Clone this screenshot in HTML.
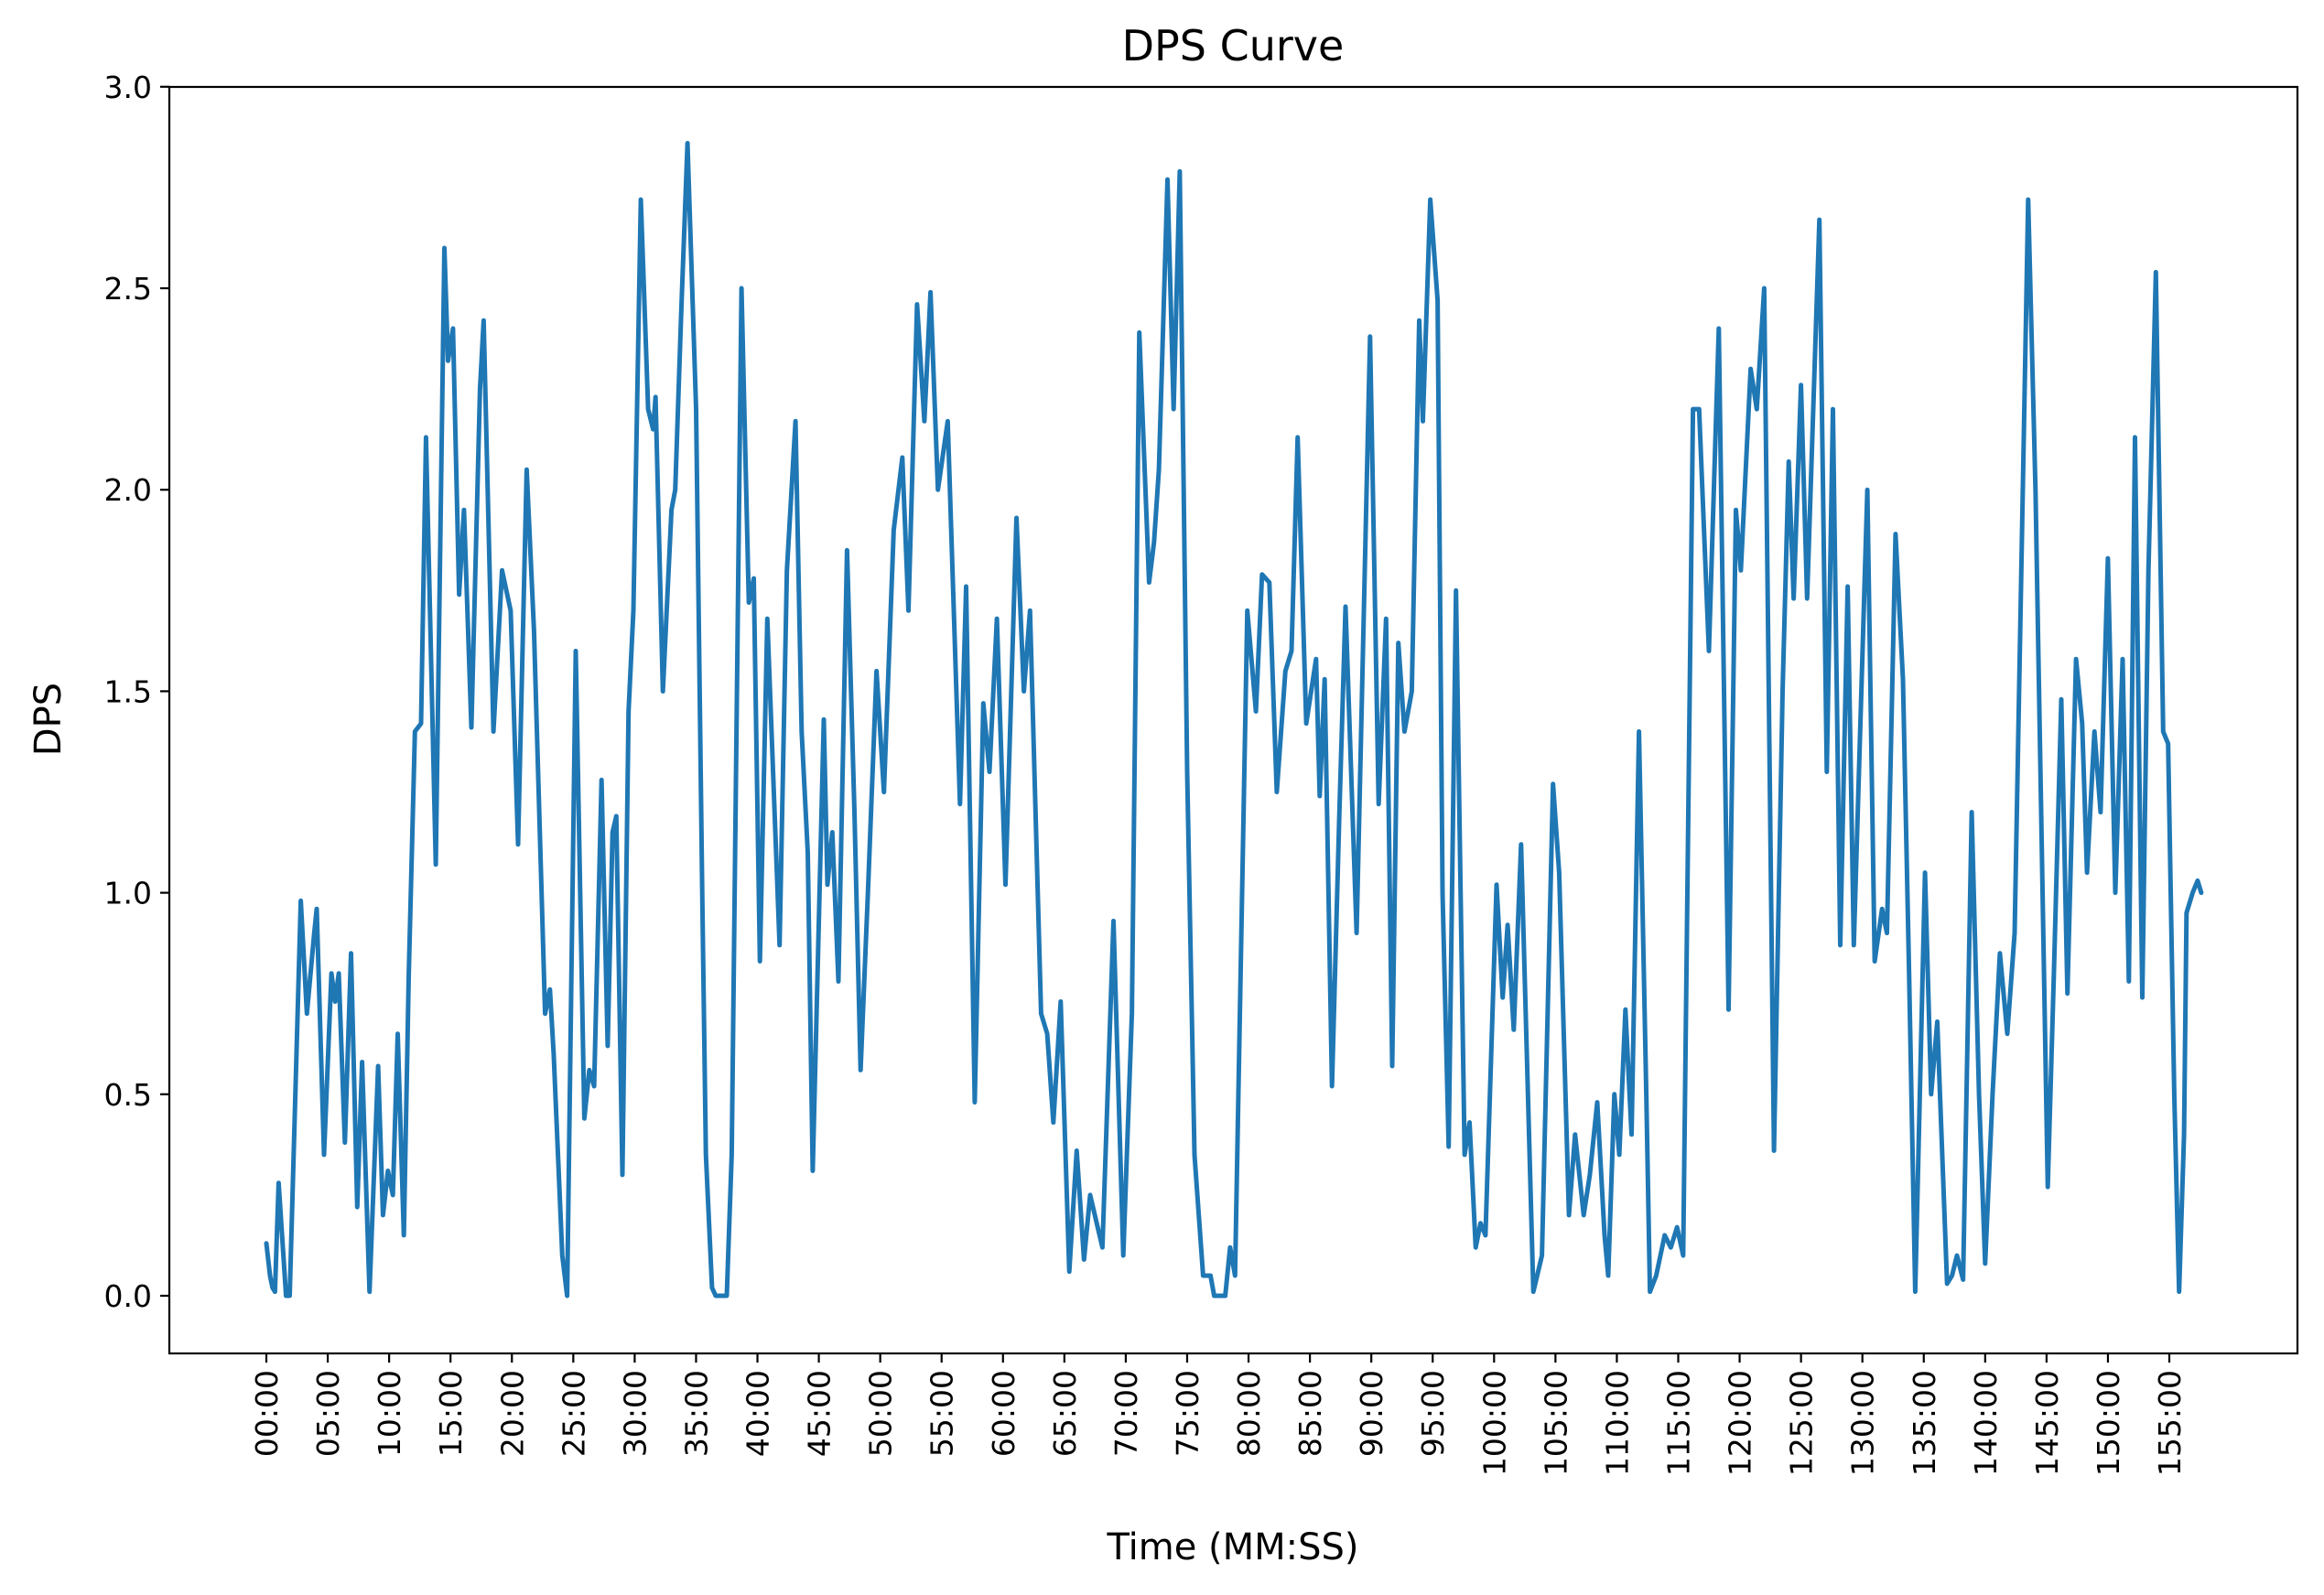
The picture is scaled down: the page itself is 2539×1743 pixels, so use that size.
<!DOCTYPE html>
<html><head><meta charset="utf-8"><style>
html,body{margin:0;padding:0;background:#fff}
svg{display:block;font-family:"DejaVu Sans","Liberation Sans",sans-serif}
</style></head><body>
<svg id="chart" width="2539" height="1743" viewBox="0 0 2539 1743" xmlns="http://www.w3.org/2000/svg">
<rect width="2539" height="1743" fill="#fff"/>
<text x="1347" y="66" font-size="46" text-anchor="middle">DPS Curve</text>
<text transform="translate(66,786) rotate(-90)" font-size="40" text-anchor="middle">DPS</text>
<text x="1347" y="1704" font-size="40" text-anchor="middle">Time (MM:SS)</text>
<g id="ticks"></g>
<g id="plot"></g>
<rect x="185" y="95" width="2325" height="1384" fill="none" stroke="#000" stroke-width="2.2"/>
</svg>
<script>
const times=[0,0.3,0.5,0.7,1,1.6,1.9,2.8,3.3,3.9,4.1,4.7,5.3,5.6,5.9,6.4,6.9,7.4,7.8,8.4,9.1,9.5,9.9,10.3,10.7,11.2,11.6,12.1,12.6,13.0,13.8,14.5,14.8,15.2,15.7,16.1,16.7,17.4,17.7,18.5,19.2,19.9,20.5,21.2,21.8,22.7,23.1,23.4,24.1,24.5,25.2,25.9,26.3,26.7,27.3,27.8,28.2,28.5,29.0,29.5,29.9,30.5,31.1,31.5,31.7,32.3,33.0,33.3,33.8,34.3,35.0,35.5,35.8,36.3,36.6,37.5,37.9,38.7,39.3,39.7,40.2,40.8,41.8,42.4,43.1,43.6,44.1,44.5,45.4,45.7,46.1,46.6,47.3,47.9,48.4,49.0,49.7,50.3,51.1,51.8,52.3,53.0,53.6,54.1,54.7,55.5,56.5,57.0,57.7,58.4,58.9,59.5,60.2,61.1,61.7,62.2,63.1,63.6,64.1,64.7,65.4,66.0,66.6,67.1,68.1,69.0,69.8,70.5,71.1,71.9,72.3,72.7,73.4,73.9,74.4,75.0,75.6,76.3,76.9,77.2,78.1,78.5,78.9,79.9,80.6,81.1,81.7,82.3,83.0,83.5,84.0,84.7,85.5,85.8,86.2,86.8,87.4,87.9,88.8,89.9,90.6,91.2,91.7,92.2,92.7,93.3,93.9,94.2,94.8,95.4,95.8,96.3,96.9,97.6,98.0,98.5,98.9,99.3,100.2,100.7,101.1,101.6,102.2,103.2,103.9,104.8,105.3,106.1,106.6,107.3,107.8,108.4,109.0,109.3,109.8,110.2,110.7,111.2,111.8,112.4,112.7,113.2,113.9,114.4,114.9,115.4,116.2,116.7,117.5,118.3,119.1,119.7,120.1,120.9,121.4,122.0,122.8,123.5,124.0,124.4,125.0,125.5,126.5,127.1,127.6,128.2,128.8,129.3,130.4,131.0,131.6,132.0,132.7,133.3,133.8,134.3,135.1,135.6,136.1,136.9,137.3,137.7,138.2,138.9,139.5,140.0,140.6,141.2,141.8,142.4,143.5,144.1,145.1,145.6,146.2,146.7,147.4,147.9,148.3,148.9,149.4,150.0,150.6,151.2,151.7,152.2,152.8,153.3,153.9,154.5,154.9,155.4,155.8,156.2,156.4,156.9,157.3,157.6];
const dps=[0.13,0.05,0.02,0.01,0.28,0,0,0.98,0.7,0.9,0.96,0.35,0.8,0.73,0.8,0.38,0.85,0.22,0.58,0.01,0.57,0.2,0.31,0.25,0.65,0.15,0.8,1.4,1.42,2.13,1.07,2.6,2.32,2.4,1.74,1.95,1.41,2.25,2.42,1.4,1.8,1.7,1.12,2.05,1.65,0.7,0.76,0.6,0.1,0,1.6,0.44,0.56,0.52,1.28,0.62,1.15,1.19,0.3,1.45,1.7,2.72,2.2,2.15,2.23,1.5,1.95,2.0,2.45,2.86,2.2,1.0,0.35,0.02,0,0,0.35,2.5,1.72,1.78,0.83,1.68,0.87,1.8,2.17,1.4,1.1,0.31,1.43,1.02,1.15,0.78,1.85,1.2,0.56,1.0,1.55,1.25,1.9,2.08,1.7,2.46,2.17,2.49,2.0,2.17,1.22,1.76,0.48,1.47,1.3,1.68,1.02,1.93,1.5,1.7,0.7,0.65,0.43,0.73,0.06,0.36,0.09,0.25,0.12,0.93,0.1,0.7,2.39,1.77,1.87,2.05,2.77,2.2,2.79,1.3,0.35,0.05,0.05,0,0,0.12,0.05,1.7,1.45,1.79,1.77,1.25,1.55,1.6,2.13,1.42,1.58,1.24,1.53,0.52,1.2,1.71,0.9,2.38,1.22,1.68,0.57,1.62,1.4,1.5,2.42,2.17,2.72,2.47,1.0,0.37,1.75,0.35,0.43,0.12,0.18,0.15,1.02,0.74,0.92,0.66,1.12,0.01,0.1,1.27,1.05,0.2,0.4,0.2,0.3,0.48,0.15,0.05,0.5,0.35,0.71,0.4,1.4,0.5,0.01,0.05,0.15,0.12,0.17,0.1,2.2,2.2,1.6,2.4,0.71,1.95,1.8,2.3,2.2,2.5,0.36,1.5,2.07,1.73,2.26,1.73,2.67,1.3,2.2,0.87,1.76,0.87,2.0,0.83,0.96,0.9,1.89,1.53,0.8,0.01,1.05,0.5,0.68,0.03,0.05,0.1,0.04,1.2,0.5,0.08,0.5,0.85,0.65,0.9,2.72,2.0,0.27,0.8,1.48,0.75,1.58,1.42,1.05,1.4,1.2,1.83,1.0,1.58,0.78,2.13,0.74,1.8,2.54,1.4,1.37,0.5,0.01,0.4,0.95,1.0,1.03,1.0];
const yTickValues=[0.0,0.5,1.0,1.5,2.0,2.5,3.0];
const xTickMinutes=[0,5,10,15,20,25,30,35,40,45,50,55,60,65,70,75,80,85,90,95,100,105,110,115,120,125,130,135,140,145,150,155];

const NS='http://www.w3.org/2000/svg';
function xScale(t){return 291+t*13.413;}
function yScale(v){return 1416-v*440.4;}
const ticks=document.getElementById('ticks');
const plot=document.getElementById('plot');
function mk(tag,attrs){const e=document.createElementNS(NS,tag);for(const k in attrs)e.setAttribute(k,attrs[k]);return e;}

yTickValues.forEach(v=>{
  const y=yScale(v);
  const l=mk('line',{x1:175,x2:185,y1:y,y2:y,stroke:'#000','stroke-width':2.2});
  
  
  ticks.appendChild(l);
  const t=mk('text',{x:166,y:y+12,'font-size':33,'text-anchor':'end'});
  
  
  t.textContent=v.toFixed(1);
  ticks.appendChild(t);
});
xTickMinutes.forEach(m=>{
  const x=xScale(m);
  const l=mk('line',{x1:x,x2:x,y1:1479,y2:1489,stroke:'#000','stroke-width':2.2});
  
  
  ticks.appendChild(l);
  const t=mk('text',{x:x+12,y:1497,'font-size':33,'text-anchor':'end',transform:`rotate(-90 ${x+12} 1497)`});
  
  
  t.textContent=String(m).padStart(2,'0')+':00';
  ticks.appendChild(t);
});
let d='';
times.forEach((t,i)=>{d+=(i?'L':'M')+xScale(t).toFixed(1)+','+yScale(dps[i]).toFixed(1);});
const p=mk('path',{d:d,fill:'none',stroke:'#1f77b4','stroke-width':5,'stroke-linejoin':'round','stroke-linecap':'round'});


plot.appendChild(p);
</script>
</body></html>
